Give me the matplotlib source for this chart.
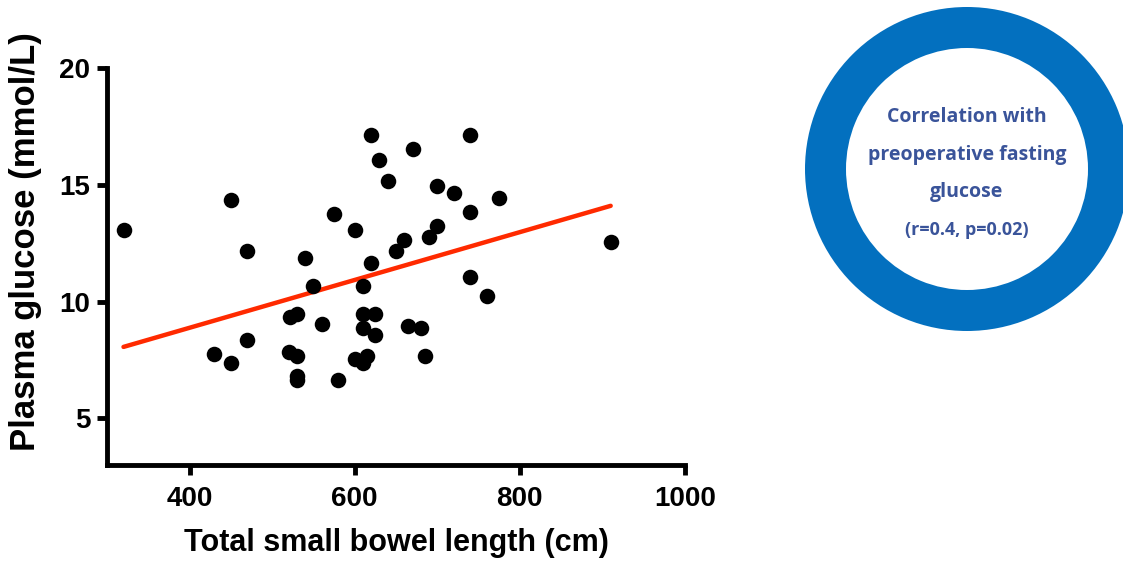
import matplotlib.pyplot as plt
from matplotlib.patches import Wedge

# Bowel length (cm) vs plasma glucose (mmol/L), one point per patient
BOWEL_LENGTH = [320, 450, 470, 430, 450, 470, 540, 550, 522, 530,
                560, 520, 530, 530, 530, 580, 575, 600, 620, 630,
                640, 660, 650, 620, 610, 610, 625, 610, 625, 600,
                610, 615, 670, 740, 700, 720, 775, 740, 700, 690,
                910, 740, 760, 665, 680, 685]
GLUCOSE = [13.05, 14.35, 12.15, 7.75, 7.35, 8.35, 11.85, 10.65, 9.35, 9.45,
           9.05, 7.85, 7.65, 6.80, 6.65, 6.65, 13.75, 13.05, 17.15, 16.05,
           15.15, 12.65, 12.15, 11.65, 10.65, 9.45, 9.45, 8.85, 8.55, 7.55,
           7.35, 7.65, 16.55, 17.15, 14.95, 14.65, 14.45, 13.85, 13.25, 12.75,
           12.55, 11.05, 10.25, 8.95, 8.85, 7.65]

# linear fit drawn over the observed range
FIT_SLOPE = 0.01024
FIT_INTERCEPT = 4.78

X_TICKS = [400, 600, 800, 1000]
Y_TICKS = [5, 10, 15, 20]

NOTE_LINES = ["Correlation with", "preoperative fasting", "glucose"]
NOTE_STATS = "(r=0.4, p=0.02)"

FONT = "Liberation Sans"
RED = "#FF2A00"
RING_BLUE = "#0370BF"
NOTE_BLUE = "#3A549A"

fig = plt.figure(figsize=(11.23, 5.67), dpi=100)
ax = fig.add_axes([107 / 1123, 1 - 465 / 567, 578 / 1123, 397 / 567])

ax.scatter(BOWEL_LENGTH, GLUCOSE, s=125, color="black", zorder=3,
           linewidths=0)
x0, x1 = min(BOWEL_LENGTH), max(BOWEL_LENGTH)
ax.plot([x0, x1], [FIT_INTERCEPT + FIT_SLOPE * x0,
                   FIT_INTERCEPT + FIT_SLOPE * x1],
        color=RED, linewidth=3.2, solid_capstyle="round", zorder=2)

ax.set_xlim(300, 1000)
ax.set_ylim(3, 20)
ax.set_xticks(X_TICKS)
ax.set_yticks(Y_TICKS)
for side in ("top", "right"):
    ax.spines[side].set_visible(False)
for side in ("left", "bottom"):
    ax.spines[side].set_linewidth(3.5)
ax.tick_params(axis="both", direction="out", length=7, width=3.5)
ax.tick_params(axis="x", pad=8)
ax.tick_params(axis="y", pad=5)
for lab in ax.get_xticklabels() + ax.get_yticklabels():
    lab.set_fontfamily(FONT)
    lab.set_fontweight("bold")
    lab.set_fontsize(20)

ax.set_xlabel("Total small bowel length (cm)", fontfamily=FONT,
              fontweight="bold", fontsize=22, labelpad=12)
ax.set_ylabel("Plasma glucose (mmol/L)", fontfamily=FONT,
              fontweight="bold", fontsize=25)
ax.yaxis.set_label_coords(-0.113, 0.562)

# side note: blue ring with the correlation summary inside
note = fig.add_axes([780 / 1123, 1 - 340 / 567, 343 / 1123, 340 / 567])
note.set_xlim(780, 1123)
note.set_ylim(340, 0)
note.set_aspect("equal")
note.axis("off")
note.add_patch(Wedge((967, 169), 162, 0, 360, width=41,
                     facecolor=RING_BLUE, edgecolor="none"))
for y, line in zip([117, 155, 192], NOTE_LINES):
    note.text(967, y, line, ha="center", va="center", color=NOTE_BLUE,
              fontfamily="Open Sans", fontweight="bold", fontsize=14)
note.text(967, 230, NOTE_STATS, ha="center", va="center", color=NOTE_BLUE,
          fontfamily="Open Sans", fontweight="bold", fontsize=13)

fig.savefig("out.png", dpi=100)
